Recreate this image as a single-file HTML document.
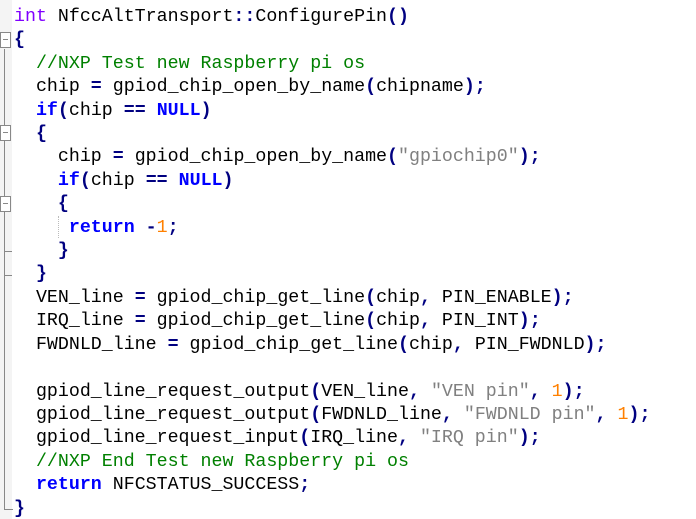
<!DOCTYPE html>
<html><head><meta charset="utf-8"><style>
html,body{margin:0;padding:0;background:#fff;width:696px;height:519px;overflow:hidden;position:relative}
.m{position:absolute;left:0;top:0;width:12px;height:519px;background:#f4f4f4}
.code{position:absolute;left:14px;top:6px;font-family:"Liberation Mono",monospace;font-size:18.3px;line-height:23.4px;color:#000;white-space:pre}
.k{color:#0000ff;font-weight:bold}
.t{color:#8000ff}
.o{color:#000080;font-weight:bold}
.c{color:#008000}
.s{color:#808080}
.n{color:#ff8000}
.v{position:absolute;background:#888}
.box{position:absolute;left:0;width:9px;height:14px;border:1px solid #888;background:#fff}
.box:after{content:"";position:absolute;left:2px;right:2px;top:6px;height:1px;background:#888}
</style></head><body>
<div class="m"></div>
<div class="v" style="left:4px;top:49px;width:1px;height:461px"></div>
<div class="v" style="left:4px;top:509px;width:9px;height:1px"></div>
<div class="box" style="top:32px"></div>
<div class="box" style="top:125px"></div>
<div class="box" style="top:196px"></div>
<div class="v" style="left:4px;top:251px;width:8px;height:1px"></div>
<div class="v" style="left:4px;top:275px;width:8px;height:1px"></div>
<div style="position:absolute;left:58px;top:216px;width:0;height:22px;border-left:1px dotted #bbb"></div>
<div class="code"><span class="t">int</span> NfccAltTransport<span class="o">::</span>ConfigurePin<span class="o">()</span>
<span class="o">{</span>
  <span class="c">//NXP Test new Raspberry pi os</span>
  chip <span class="o">=</span> gpiod_chip_open_by_name<span class="o">(</span>chipname<span class="o">);</span>
  <span class="k">if</span><span class="o">(</span>chip <span class="o">==</span> <span class="k">NULL</span><span class="o">)</span>
  <span class="o">{</span>
    chip <span class="o">=</span> gpiod_chip_open_by_name<span class="o">(</span><span class="s">"gpiochip0"</span><span class="o">);</span>
    <span class="k">if</span><span class="o">(</span>chip <span class="o">==</span> <span class="k">NULL</span><span class="o">)</span>
    <span class="o">{</span>
     <span class="k">return</span> <span class="o">-</span><span class="n">1</span><span class="o">;</span>
    <span class="o">}</span>
  <span class="o">}</span>
  VEN_line <span class="o">=</span> gpiod_chip_get_line<span class="o">(</span>chip<span class="o">,</span> PIN_ENABLE<span class="o">);</span>
  IRQ_line <span class="o">=</span> gpiod_chip_get_line<span class="o">(</span>chip<span class="o">,</span> PIN_INT<span class="o">);</span>
  FWDNLD_line <span class="o">=</span> gpiod_chip_get_line<span class="o">(</span>chip<span class="o">,</span> PIN_FWDNLD<span class="o">);</span>

  gpiod_line_request_output<span class="o">(</span>VEN_line<span class="o">,</span> <span class="s">"VEN pin"</span><span class="o">,</span> <span class="n">1</span><span class="o">);</span>
  gpiod_line_request_output<span class="o">(</span>FWDNLD_line<span class="o">,</span> <span class="s">"FWDNLD pin"</span><span class="o">,</span> <span class="n">1</span><span class="o">);</span>
  gpiod_line_request_input<span class="o">(</span>IRQ_line<span class="o">,</span> <span class="s">"IRQ pin"</span><span class="o">);</span>
  <span class="c">//NXP End Test new Raspberry pi os</span>
  <span class="k">return</span> NFCSTATUS_SUCCESS<span class="o">;</span>
<span class="o">}</span></div>
</body></html>
